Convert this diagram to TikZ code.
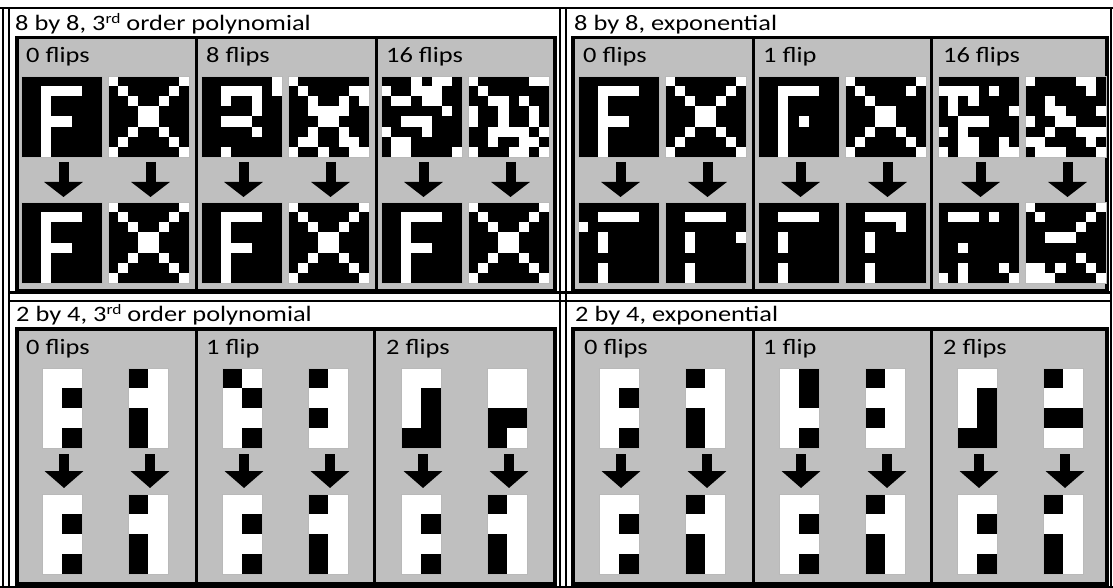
\documentclass[tikz,border=0pt]{standalone}
\usepackage{fontspec}
\setmainfont{Carlito}[FakeStretch=1.2]
\usetikzlibrary{arrows.meta}
\definecolor{panelgray}{RGB}{191,191,191}
\tikzset{
  frameline/.style={line width=2.5pt, black},
  panel/.style={fill=panelgray, draw=black, line width=3.5pt},
  divider/.style={black, line width=3pt},
  bgrid/.style={rectangle, fill=black, inner sep=0pt, outer sep=0pt, minimum width=81pt, minimum height=81pt},
  sgrid/.style={rectangle, fill=white, inner sep=0pt, outer sep=0pt, minimum width=40pt, minimum height=80pt},
  gline/.style={draw=gray!55, line width=0.7pt},
  bigarrow/.style={line width=10pt, black, -{Triangle[length=15pt,width=38pt]}, shorten <=5pt, shorten >=5pt},
  smallarrow/.style={line width=10pt, black, -{Triangle[length=17pt,width=38pt]}, shorten <=6pt, shorten >=6pt},
  titletext/.style={anchor=base west, inner sep=0pt, font=\fontsize{22}{26}\selectfont},
  labtext/.style={anchor=base west, inner sep=0pt, font=\fontsize{22}{26}\selectfont},
}
% 8x8 grid: white cells listed per row
\newcommand{\bigG}[4]{%
  \node[bgrid] (#1) at ({#2+40.5},{#3+40.5}) {};
  \foreach \rw [count=\ri from 0] in #4 {%
    \foreach \c in \rw {%
      \ifnum\c>-1\relax
        \fill[white] ({#2+\c*10.125},{#3+\ri*10.125}) rectangle ++(10.125,10.125);
      \fi
    }%
  }%
  \draw[gline] (#1.north west) rectangle (#1.south east);
}
% 2x4 grid: black cells listed per row
\newcommand{\smallG}[4]{%
  \node[sgrid] (#1) at ({#2+20},{#3+40}) {};
  \foreach \rw [count=\ri from 0] in #4 {%
    \foreach \c in \rw {%
      \ifnum\c>-1\relax
        \fill[black] ({#2+\c*20},{#3+\ri*20}) rectangle ++(20,20);
      \fi
    }%
  }%
  \draw[gline] (#1.north west) rectangle (#1.south east);
}
\newcommand{\supRD}{\raisebox{7pt}{\fontsize{14.5}{14.5}\selectfont rd}}
% patterns
\def\patF{{-1},{2,3,4,5},{2},{2},{2,3,4},{2},{2},{2}}
\def\patX{{0,7},{1,6},{2,5},{3,4},{3,4},{2,5},{1,6},{0,7}}
\def\patFeight{{7},{2,3,4,5,7},{2,5},{5},{2,3,4},{5},{-1},{2}}
\def\patXeight{{0},{1,6,7},{2,5,7},{2,3,4,5},{3,4},{2,5},{1,2,5,6},{0,3,6,7}}
\def\patFsix{{3,5,6},{0,3,4,5},{1,2,4,5},{6},{2,3,4},{0,4},{1,2},{1,2,7}}
\def\patXsix{{0,6,7},{1},{2,3,5},{0,3,6},{0,3,6},{2,3,4,5,7},{2,5,6},{0,4,5,7}}
\def\patEFout{{-1},{2,3,4,5},{0},{2},{2},{-1},{2},{2}}
\def\patEXout{{-1},{2,3,4,5},{-1},{2,7},{2},{-1},{2},{2}}
\def\patEFone{{-1},{2,3,4,5},{2},{2},{2,4},{2},{2},{2}}
\def\patEXone{{0,7},{1,6},{2},{3,4},{3,4},{2,5},{1,6},{0,7}}
\def\patEFoneout{{-1},{2,3,4,5},{-1},{2},{2},{-1},{2},{2}}
\def\patEXoneout{{-1},{2,3,4,5},{5},{2},{2},{-1},{2},{2}}
\def\patEFsix{{-1},{0,1,2,3,5},{1,3},{1,7},{2,3,4},{0,2},{2,3,6},{0,2,3,6,7}}
\def\patEXsix{{0,5,6},{6},{2},{2,3,7},{0,3,4},{2,5,6,7},{0,1,6},{1,2,3,7}}
\def\patEFsixout{{-1},{1,2,3,5},{-1},{-1},{2},{-1},{2,6},{0,2,7}}
\def\patEXsixout{{0,7},{1,6},{5},{2,3,4},{-1},{5},{0,1,3,6},{0,1,2,7}}
\def\patsA{{-1},{1},{-1},{1}}
\def\patsB{{0},{-1},{0},{0}}
\def\patsAone{{0},{1},{-1},{1}}
\def\patsBone{{0},{-1},{0},{-1}}
\def\patsAtwo{{-1},{1},{1},{0,1}}
\def\patsBtwo{{-1},{-1},{0,1},{0}}
\def\patsAonee{{1},{1},{-1},{1}}
\def\patsBtwoe{{0},{-1},{0,1},{-1}}
\begin{document}
\begin{tikzpicture}[x=1pt,y=-1pt]
\useasboundingbox (0,0) rectangle (1113,588);
% table frame
\draw[frameline] (0,8) -- (1113,8);
\draw[frameline] (3,8) -- (3,588);
\draw[frameline] (9,8) -- (9,588);
\draw[frameline] (560,8) -- (560,588);
\draw[frameline] (566,8) -- (566,588);
\draw[frameline] (1111,8) -- (1111,588);
\draw[frameline] (9,292.5) -- (1111,292.5);
\draw[frameline] (9,301) -- (1111,301);
\draw[frameline] (0,587) -- (1113,587);
% panels
\draw[panel] (17,37.5) rectangle (555,290.5);
\draw[panel] (573,37.5) rectangle (1107,290.5);
\draw[panel] (17,329) rectangle (555,584);
\draw[panel] (573,329) rectangle (1107,584);
\draw[divider] (196,37.5) -- (196,290.5);
\draw[divider] (376,37.5) -- (376,290.5);
\draw[divider] (753,37.5) -- (753,290.5);
\draw[divider] (931,37.5) -- (931,290.5);
\draw[divider] (196,329) -- (196,584);
\draw[divider] (374,329) -- (374,584);
\draw[divider] (753,329) -- (753,584);
\draw[divider] (931,329) -- (931,584);
% titles
\node[titletext] (t1) at (15,31) {8 by 8, 3\supRD{} order polynomial};
\node[titletext] (t2) at (574,31) {8 by 8, exponential};
\node[titletext] (t3) at (16,321) {2 by 4, 3\supRD{} order polynomial};
\node[titletext] (t4) at (575,321) {2 by 4, exponential};
% sub-panel labels
\node[labtext] (l1) at (26,63) {0 flips};
\node[labtext] (l2) at (206,63) {8 flips};
\node[labtext] (l3) at (386,63) {16 flips};
\node[labtext] (l4) at (583,63) {0 flips};
\node[labtext] (l5) at (763,63) {1 flip};
\node[labtext] (l6) at (943,63) {16 flips};
\node[labtext] (l7) at (26,354) {0 flips};
\node[labtext] (l8) at (206,354) {1 flip};
\node[labtext] (l9) at (386,354) {2 flips};
\node[labtext] (l10) at (584,354) {0 flips};
\node[labtext] (l11) at (763,354) {1 flip};
\node[labtext] (l12) at (943,354) {2 flips};
% 8x8 polynomial
\bigG{pa}{21}{76}{\patF}      \bigG{pb}{108}{76}{\patX}
\bigG{pao}{21}{202}{\patF}    \bigG{pbo}{108}{202}{\patX}
\bigG{pc}{201}{76}{\patFeight} \bigG{pd}{288}{76}{\patXeight}
\bigG{pco}{201}{202}{\patF}   \bigG{pdo}{288}{202}{\patX}
\bigG{pe}{381}{76}{\patFsix}  \bigG{pf}{468}{76}{\patXsix}
\bigG{peo}{381}{202}{\patF}   \bigG{pfo}{468}{202}{\patX}
% 8x8 exponential
\bigG{ea}{578}{76}{\patF}        \bigG{eb}{665}{76}{\patX}
\bigG{eao}{578}{202}{\patEFout}  \bigG{ebo}{665}{202}{\patEXout}
\bigG{ec}{758}{76}{\patEFone}    \bigG{ed}{845}{76}{\patEXone}
\bigG{eco}{758}{202}{\patEFoneout} \bigG{edo}{845}{202}{\patEXoneout}
\bigG{ee}{938}{76}{\patEFsix}    \bigG{ef}{1025}{76}{\patEXsix}
\bigG{eeo}{938}{202}{\patEFsixout} \bigG{efo}{1025}{202}{\patEXsixout}
% 2x4 polynomial
\smallG{qa}{42}{368}{\patsA}     \smallG{qb}{128}{368}{\patsB}
\smallG{qao}{42}{494}{\patsA}    \smallG{qbo}{128}{494}{\patsB}
\smallG{qc}{222}{368}{\patsAone} \smallG{qd}{308}{368}{\patsBone}
\smallG{qco}{222}{494}{\patsA}   \smallG{qdo}{308}{494}{\patsB}
\smallG{qe}{401}{368}{\patsAtwo} \smallG{qf}{487}{368}{\patsBtwo}
\smallG{qeo}{401}{494}{\patsA}   \smallG{qfo}{487}{494}{\patsB}
% 2x4 exponential
\smallG{ra}{599}{368}{\patsA}     \smallG{rb}{685}{368}{\patsB}
\smallG{rao}{599}{494}{\patsA}    \smallG{rbo}{685}{494}{\patsB}
\smallG{rc}{779}{368}{\patsAonee} \smallG{rd}{865}{368}{\patsBone}
\smallG{rco}{779}{494}{\patsA}    \smallG{rdo}{865}{494}{\patsB}
\smallG{re}{957}{368}{\patsAtwo}  \smallG{rf}{1043}{368}{\patsBtwoe}
\smallG{reo}{957}{494}{\patsA}    \smallG{rfo}{1043}{494}{\patsB}
% arrows
\foreach \g in {pa,pb,pc,pd,pe,pf,ea,eb,ec,ed,ee,ef}
  \draw[bigarrow] ([xshift=2pt]\g.south) -- ([xshift=2pt]\g o.north);
\foreach \g in {qa,qb,qc,qd,qe,qf,ra,rb,rc,rd,re,rf}
  \draw[smallarrow] ([xshift=2pt]\g.south) -- ([xshift=2pt]\g o.north);
\end{tikzpicture}
\end{document}
